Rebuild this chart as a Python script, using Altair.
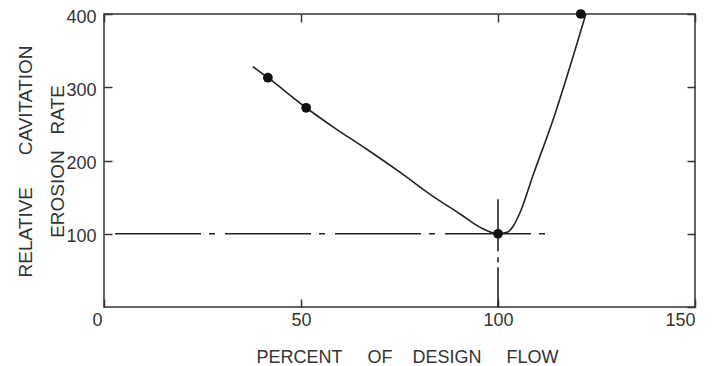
import altair as alt
import pandas as pd

# Curve
curve_x = [37.8, 41.6, 51.3, 58.1, 66.8, 75.1, 83.5, 90.4, 95.4, 100.0, 102.3, 103.8, 105.6, 108.9, 114.0, 119.0, 122.3]
curve_y = [328, 313, 272, 246, 215, 184, 151, 127, 109, 100, 102, 110, 129, 180, 256, 341, 400]

# Measured points
point_x = [41.6, 51.3, 100.0, 121.0]
point_y = [313, 272, 100, 400]

# Reference lines (design flow = 100 %, relative rate = 100)
href_x = [2.8, 114.0]
href_y = [100]
vref_x = [100]
vref_y = [147, 0]

x_ticks = [0, 50, 100, 150]
y_ticks = [100, 200, 300, 400]
y_ticks_right = [0, 100, 200, 300, 400]

x_title = "PERCENT\u00a0\u00a0\u00a0\u00a0\u00a0OF\u00a0\u00a0\u00a0\u00a0DESIGN\u00a0\u00a0\u00a0\u00a0\u00a0FLOW"
y_title = ["RELATIVE\u00a0\u00a0\u00a0\u00a0\u00a0\u00a0CAVITATION", "EROSION\u00a0\u00a0\u00a0RATE"]

INK = "#222222"
TXT = "#333333"

curve_df = pd.DataFrame({"x": curve_x, "y": curve_y})
pts_df = pd.DataFrame({"x": point_x, "y": point_y})
h_df = pd.DataFrame({"x": [href_x[0]], "x2": [href_x[1]], "y": href_y})
v_df = pd.DataFrame({"x": vref_x, "y": [vref_y[0]], "y2": [vref_y[1]]})

xs = alt.Scale(domain=[0, 150], nice=False, zero=False)
ys = alt.Scale(domain=[0, 400], nice=False, zero=False)

bottom_axis = alt.Axis(
    orient="bottom", values=x_ticks, offset=-8, tickSize=8, domain=False, grid=False,
    labelPadding=4,
    labelOffset={"condition": {"test": "datum.value === 0", "value": -12}, "value": 0},
    title=x_title, titleX=303, titleY=63, titleBaseline="alphabetic", titleAlign="center",
    titleAngle=0,
)
left_axis = alt.Axis(
    orient="left", values=y_ticks, offset=-8, tickSize=8, domain=False, grid=False,
    labelPadding=8, labelOffset=3,
    title=y_title, titleX=-87, titleY=147, titleBaseline="middle", titleAlign="center",
    titleAngle=270, titleLineHeight=32, titleFontSize=19,
)
top_axis = alt.Axis(orient="top", values=x_ticks, offset=-8, tickSize=8, domain=False,
                    grid=False, labels=False, title=None)
right_axis = alt.Axis(orient="right", values=y_ticks_right, offset=-8, tickSize=8, domain=False,
                      grid=False, labels=False, title=None)

hline = alt.Chart(h_df).mark_rule(color=INK, strokeWidth=1.6, strokeDash=[86, 8, 6, 10]).encode(
    x=alt.X("x:Q", scale=xs, axis=None),
    x2="x2:Q",
    y=alt.Y("y:Q", scale=ys, axis=None),
)
vline = alt.Chart(v_df).mark_rule(color=INK, strokeWidth=1.6, strokeDash=[52, 6, 5, 5]).encode(
    x=alt.X("x:Q", scale=xs, axis=None),
    y=alt.Y("y:Q", scale=ys, axis=None),
    y2="y2:Q",
)
curve = alt.Chart(curve_df).mark_line(color=INK, strokeWidth=1.6, interpolate="monotone").encode(
    x=alt.X("x:Q", scale=xs, axis=bottom_axis),
    y=alt.Y("y:Q", scale=ys, axis=left_axis),
)
points = alt.Chart(pts_df).mark_circle(color="#111111", opacity=1, size=95).encode(
    x=alt.X("x:Q", scale=xs, axis=top_axis),
    y=alt.Y("y:Q", scale=ys, axis=right_axis),
)

chart = alt.layer(hline, vline, curve, points).resolve_axis(
    x="independent", y="independent"
).properties(
    width=591, height=293,
    autosize=alt.AutoSizeParams(type="none"),
    padding={"left": 96, "top": 6, "right": 9, "bottom": 59},
    background="white",
).configure_view(
    stroke="#333333", strokeWidth=1.5
).configure_axis(
    labelFont="Liberation Sans", labelFontSize=18, labelColor=TXT,
    titleFont="Liberation Sans", titleFontSize=18, titleColor=TXT, titleFontWeight="normal",
    tickColor="#333333", tickWidth=1.5,
)

chart.save("out.html", embed_options={"renderer": "svg", "actions": False})
